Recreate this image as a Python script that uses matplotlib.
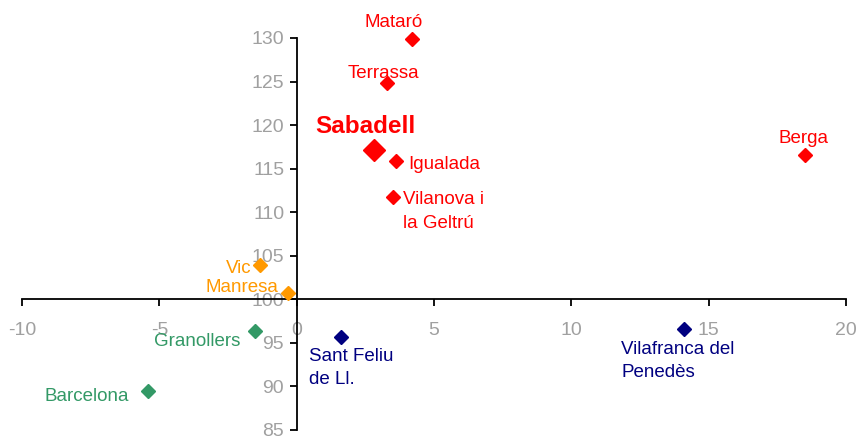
import matplotlib

matplotlib.use("Agg")
import matplotlib.pyplot as plt

plt.rcParams["font.family"] = ["Liberation Sans", "DejaVu Sans"]
plt.rcParams["axes.unicode_minus"] = False

# dades: ciutat, x, y
cities = ["Mataró", "Terrassa", "Sabadell", "Igualada", "Vilanova i\nla Geltrú", "Berga",
          "Vic", "Manresa", "Granollers", "Barcelona", "Sant Feliu\nde Ll.", "Vilafranca del\nPenedès"]
x_vals = [4.2, 3.3, 2.8, 3.6, 3.5, 18.5, -1.35, -0.3, -1.5, -5.4, 1.6, 14.1]
y_vals = [129.9, 124.8, 117.1, 115.9, 111.7, 116.6, 103.9, 100.7, 96.4, 89.5, 95.7, 96.6]

RED, ORANGE, GREEN, NAVY = "#ff0000", "#ff9900", "#339966", "#000080"
colors = [RED, RED, RED, RED, RED, RED, ORANGE, ORANGE, GREEN, GREEN, NAVY, NAVY]
# offset (pt), ha, va
label_pos = [
    ((-13, 12), "center", "center"),
    ((-3, 7), "center", "center"),
    ((-6, 17), "center", "center"),
    ((9, -3), "left", "center"),
    ((7, 4.5), "left", "top"),
    ((-1, 12), "center", "center"),
    ((-6, -2), "right", "center"),
    ((-7, 4), "right", "center"),
    ((-11, -8), "right", "center"),
    ((-14, -4), "right", "center"),
    ((-23, -8), "left", "top"),
    ((-45, -8.5), "left", "top"),
]

fig = plt.figure(figsize=(8.58, 4.38), dpi=100)
ax = fig.add_axes([22 / 858, 8 / 438, 824 / 858, 392 / 438])

for name, x, y, c, (off, ha, va) in zip(cities, x_vals, y_vals, colors, label_pos):
    big = name == "Sabadell"
    ax.plot(x, y, marker="D", color=c, ms=11 if big else 7, ls="none", clip_on=False, zorder=3)
    ax.annotate(name, (x, y), xytext=off, textcoords="offset points", ha=ha, va=va,
                color=c, fontsize=17.5 if big else 13.5, fontweight="bold" if big else "normal",
                linespacing=1.5)

ax.set_xlim(-10, 20)
ax.set_ylim(85, 130)
ax.set_xticks([-10, -5, 0, 5, 10, 15, 20])
ax.set_yticks(range(85, 131, 5))

for s in ["top", "right"]:
    ax.spines[s].set_visible(False)
ax.spines["left"].set_position(("data", 0))
ax.spines["bottom"].set_position(("data", 100))
ax.spines["left"].set_linewidth(1.3)
ax.spines["bottom"].set_linewidth(1.3)

ax.tick_params(axis="x", direction="out", length=5, width=1.3, pad=11, labelsize=14, labelcolor="#a0a0a0")
ax.tick_params(axis="y", direction="out", length=5, width=1.3, pad=4, labelsize=14, labelcolor="#a0a0a0")

fig.savefig("out.png", dpi=100)
